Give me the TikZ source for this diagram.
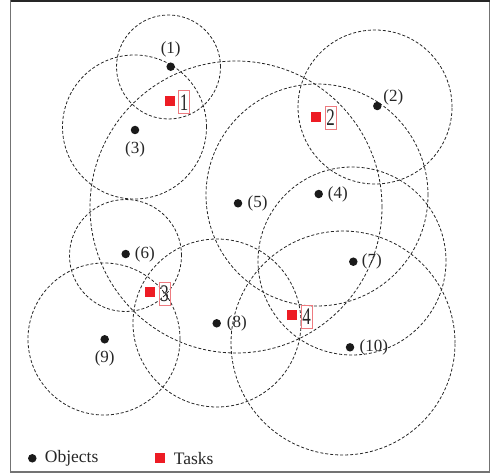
\documentclass[tikz,border=0pt]{standalone}
\usepackage{fontspec}
\setmainfont{Liberation Serif}
\usetikzlibrary{positioning}
\definecolor{TaskRed}{HTML}{ED1C24}
\definecolor{BoxRed}{HTML}{EE7B80}
\definecolor{DotBlack}{HTML}{1A1A1A}
\newcommand{\taskno}[1]{\scalebox{1}[1.4]{#1}}
\tikzset{
  objdot/.style={circle,fill=DotBlack,inner sep=0pt,minimum size=8.5pt},
  objlbl/.style={inner sep=0pt,font=\fontsize{17}{20}\selectfont,text=black!85},
  tasksq/.style={fill=TaskRed,inner sep=0pt,minimum size=10pt},
  tasklbl/.style={
    draw=BoxRed,line width=0.8pt,inner sep=0pt,
    minimum width=11.3pt,minimum height=23pt,
    font=\fontsize{17}{20}\selectfont,text=black!85
  },
  rangecircle/.style={draw=black!85,line width=0.8pt,dash pattern=on 3pt off 2pt},
  legtext/.style={inner sep=0pt,font=\fontsize{17.5}{20}\selectfont,text=black!85},
}

\begin{document}
\begin{tikzpicture}[x=1pt,y=-1pt]
  \useasboundingbox (0,0) rectangle (494,473);
  % frame
  \draw[black!55,line width=1.6pt] (10.5,0.8) rectangle (489.5,472.2);
  \draw[black!85,line width=1.6pt] (10.5,0.8) -- (489.5,0.8);
  % coverage ranges
  \draw[rangecircle] (168.5,67) circle[radius=52pt];
  \draw[rangecircle] (134.5,127) circle[radius=72pt];
  \draw[rangecircle] (236,207) circle[radius=146pt];
  \draw[rangecircle] (375,107) circle[radius=77pt];
  \draw[rangecircle] (317,195) circle[radius=111pt];
  \draw[rangecircle] (352,261) circle[radius=94pt];
  \draw[rangecircle] (343,343) circle[radius=112pt];
  \draw[rangecircle] (125.5,255.5) circle[radius=56pt];
  \draw[rangecircle] (104,339) circle[radius=76pt];
  \draw[rangecircle] (217,323) circle[radius=84pt];
  % objects
  \node[objdot] (o1) at (170.7,66.7) {};
  \node[objdot] (o2) at (377.3,106) {};
  \node[objdot] (o3) at (135,130) {};
  \node[objdot] (o4) at (318.7,194) {};
  \node[objdot] (o5) at (238,203.3) {};
  \node[objdot] (o6) at (125.7,254) {};
  \node[objdot] (o7) at (353.3,261.7) {};
  \node[objdot] (o8) at (216.7,323.3) {};
  \node[objdot] (o9) at (104.7,339.3) {};
  \node[objdot] (o10) at (350,347.3) {};
  \node[objlbl, above=5pt of o1] (l1) {(1)};
  \node[objlbl, right=1.5pt of o2, yshift=9pt] (l2) {(2)};
  \node[objlbl, below=7pt of o3] (l3) {(3)};
  \node[objlbl, right=4.5pt of o4] (l4) {(4)};
  \node[objlbl, right=5pt of o5] (l5) {(5)};
  \node[objlbl, right=4.5pt of o6] (l6) {(6)};
  \node[objlbl, right=4pt of o7] (l7) {(7)};
  \node[objlbl, right=5.5pt of o8] (l8) {(8)};
  \node[objlbl, below=7pt of o9] (l9) {(9)};
  \node[objlbl, right=5pt of o10] (l10) {(10)};
  % tasks
  \node[tasksq] (t1) at (170,100.8) {};
  \node[tasksq] (t2) at (316,117.2) {};
  \node[tasksq] (t3) at (150,291.8) {};
  \node[tasksq] (t4) at (292.2,315) {};
  \node[tasklbl, right=2.8pt of t1, yshift=-1.5pt] (tl1) {\taskno{1}};
  \node[tasklbl, right=3.3pt of t2, yshift=-0.5pt] (tl2) {\taskno{2}};
  \node[tasklbl, right=3.3pt of t3, yshift=-1.8pt] (tl3) {\taskno{3}};
  \node[tasklbl, right=3.2pt of t4, yshift=-1.8pt] (tl4) {\taskno{4}};
  % legend
  \node[objdot] (legobj) at (32.3,458.3) {};
  \node[legtext, right=8pt of legobj] (legobjtxt) {Objects};
  \node[tasksq] (legtask) at (160,458.3) {};
  \node[legtext, right=8.5pt of legtask] (legtasktxt) {Tasks};
\end{tikzpicture}
\end{document}
